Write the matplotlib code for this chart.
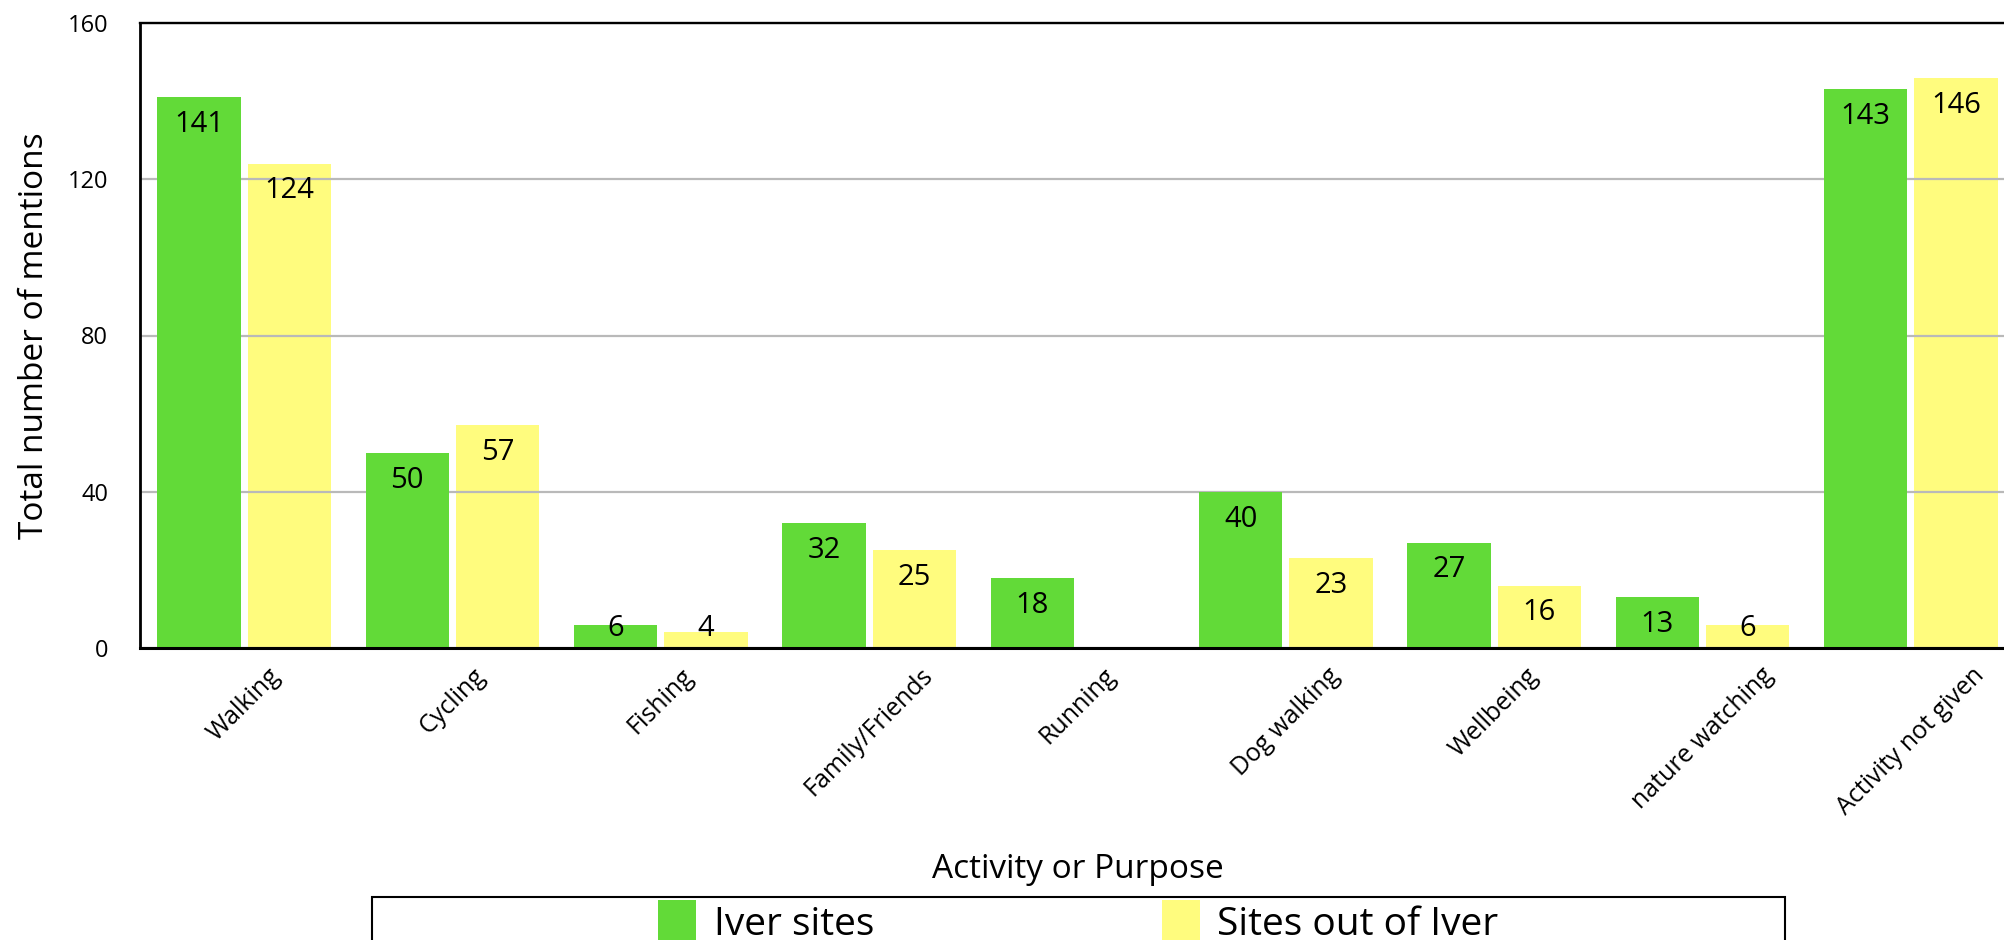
import numpy as np
import matplotlib
matplotlib.use("Agg")
import matplotlib.pyplot as plt
from matplotlib.patches import Rectangle, Patch

# ==========================================
# data
# ==========================================
categories = ["Walking", "Cycling", "Fishing", "Family/Friends", "Running",
              "Dog walking", "Wellbeing", "nature watching", "Activity not given"]
iver_sites = [141, 50, 6, 32, 18, 40, 27, 13, 143]
sites_out = [124, 57, 4, 25, 0, 23, 16, 6, 146]
series_names = ["Iver sites", "Sites out of Iver"]
y_ticks = [0, 40, 80, 120, 160]

GREEN = "#62DA38"
YELLOW = "#FFFC7E"

plt.rcParams['font.family'] = ['Open Sans', 'DejaVu Sans']

W, H = 2004, 940
fig = plt.figure(figsize=(W / 100, H / 100), dpi=100)
# axes runs past the right edge of the canvas, as in the source
ax = fig.add_axes([140 / W, 292 / H, 1875 / W, 625 / H])

x = np.arange(len(categories))
bw = 0.40
off = 0.217

ax.bar(x - off, iver_sites, width=bw, color=GREEN, zorder=3)
ax.bar(x + off, sites_out, width=bw, color=YELLOW, zorder=1)

# value labels inside the bars, kept off the axis line for short bars
for xs, vals in ((x - off, iver_sites), (x + off, sites_out)):
    for xi, v in zip(xs, vals):
        if v <= 0:
            continue
        ax.text(xi, max(v - 7.0, 4.9), str(v), ha='center', va='center',
                fontsize=21, color='black', zorder=5)

ax.set_xlim(-0.5, len(categories) - 0.5)
ax.set_ylim(0, 160)
ax.set_yticks(y_ticks)
ax.set_xticks(x)
ax.set_xticklabels(categories, rotation=45, ha='center', fontsize=18)
ax.tick_params(axis='x', length=0, pad=11)
ax.tick_params(axis='y', length=0, pad=23, labelsize=17)

# grid sits over the yellow bars but under the green ones
ax.yaxis.grid(True, color='#b9b9b9', linewidth=1.6)
ax.set_axisbelow(False)
for gl in ax.get_ygridlines():
    gl.set_zorder(2)

ax.spines['right'].set_visible(False)
ax.spines['top'].set_linewidth(1.7)
ax.spines['left'].set_linewidth(2.0)
ax.spines['bottom'].set_linewidth(2.2)
for s in ax.spines.values():
    s.set_zorder(6)

ax.set_xlabel("Activity or Purpose", fontsize=24)
ax.xaxis.set_label_coords(0.5, -0.328)
ax.set_ylabel("Total number of mentions", fontsize=24)
ax.yaxis.set_label_coords(-0.0475, 0.5)

# legend: handles centered, frame drawn separately (clipped at bottom)
handles = [Patch(facecolor=GREEN, edgecolor='none'),
           Patch(facecolor=YELLOW, edgecolor='none')]
fig.legend(handles, series_names, loc='upper center',
           bbox_to_anchor=(1078.5 / W, 40 / H), ncol=2, frameon=False,
           fontsize=28, handlelength=0.974, handleheight=1.34,
           handletextpad=0.45, columnspacing=7.4, borderpad=0, borderaxespad=0)
fig.patches.append(Rectangle((372 / W, -0.1), (1785 - 372) / W, 43 / H + 0.1,
                             transform=fig.transFigure, fill=False,
                             edgecolor='black', linewidth=1.5))

fig.savefig("out.png", dpi=100, facecolor='white')
